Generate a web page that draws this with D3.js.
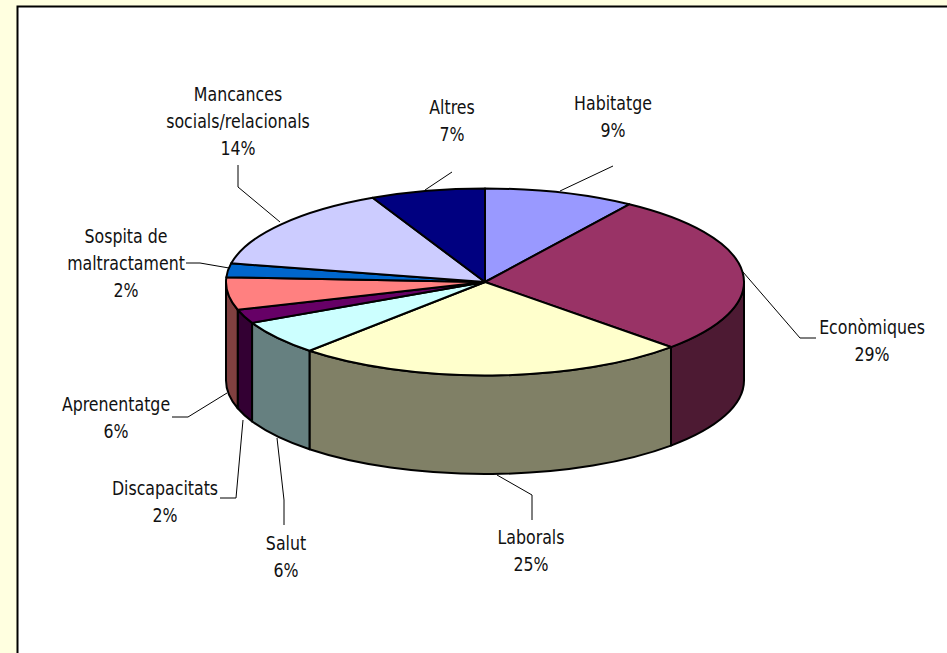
<!DOCTYPE html>
<html><head><meta charset="utf-8">
<script src="https://cdnjs.cloudflare.com/ajax/libs/d3/7.8.5/d3.min.js"></script>
<style>html,body{margin:0;padding:0;background:#ffffe0;overflow:hidden}svg{display:block}</style>
</head><body>
<svg id="c" width="947" height="653"></svg>
<script>
const categories = ["Habitatge","Econòmiques","Laborals","Salut","Discapacitats","Aprenentatge","Sospita de maltractament","Mancances socials/relacionals","Altres"];
const values = [9.4,27.85,24.6,5.95,2.4,5.6,2.4,14.66,7.14];
const percentLabels = ["9%","29%","25%","6%","2%","6%","2%","14%","7%"];
const labelLines = [["Habitatge","9%"],["Econòmiques","29%"],["Laborals","25%"],["Salut","6%"],["Discapacitats","2%"],["Aprenentatge","6%"],["Sospita de","maltractament","2%"],["Mancances","socials/relacionals","14%"],["Altres","7%"]];
const topColors = ["#9999ff","#993366","#ffffcc","#ccffff","#660066","#ff8080","#0066cc","#ccccff","#000080"];
const sideColors = ["#4d4d80","#4d1a33","#808066","#668080","#330033","#804040","#003366","#666680","#000040"];
const labelX = [613,872,531,286,165,116,126,238,452];
const labelTop = [103,327,537,543,488,404,236,94,107];
const leaders = [
 [[613,166],[560,191]],
 [[743,272],[800,338],[816,338]],
 [[497,475],[532,495],[532,520]],
 [[277,438],[284,500],[284,525]],
 [[243,420],[236,498],[220,498]],
 [[227,393],[188,417],[172,417]],
 [[229,268],[200,263],[186,263]],
 [[280,222],[238,187],[238,165]],
 [[425,190],[452,172]]
];
const cx=485, cy=282, rx=259, ry=93.5, depth=98.5, lineH=27, fontSize=20, xScale=0.79;

const svg=d3.select("#c");
svg.append("rect").attr("x",17.5).attr("y",6.5).attr("width",1000).attr("height",800).attr("fill","#fff").attr("stroke","#000").attr("stroke-width",2);

const arcs=d3.pie().sort(null).value(d=>d)(values);
const pt=(a,dy=0)=>[cx+rx*Math.sin(a),cy-ry*Math.cos(a)+dy];
const ellArc=(p,a0,a1,dy=0)=>{
  const [x,y]=pt(a1,dy);
  const sweep=a1>a0?1:0;
  p.push(`A${rx} ${ry} 0 ${Math.abs(a1-a0)>Math.PI?1:0} ${sweep} ${x} ${y}`);
};
const PI=Math.PI;
arcs.forEach((d,i)=>{
  const a0=Math.max(d.startAngle,PI/2), a1=Math.min(d.endAngle,3*PI/2);
  if(a1<=a0) return;
  const p=[`M${pt(a0)}`];
  ellArc(p,a0,a1);
  p.push(`L${pt(a1,depth)}`);
  ellArc(p,a1,a0,depth);
  p.push("Z");
  svg.append("path").attr("d",p.join("")).attr("fill",sideColors[i]).attr("stroke","#000").attr("stroke-width",2).attr("stroke-linejoin","round");
});
arcs.forEach((d,i)=>{
  const p=[`M${cx} ${cy}L${pt(d.startAngle)}`];
  ellArc(p,d.startAngle,d.endAngle);
  p.push("Z");
  svg.append("path").attr("d",p.join("")).attr("fill",topColors[i]).attr("stroke","#000").attr("stroke-width",2).attr("stroke-linejoin","round");
});
const line=d3.line();
leaders.forEach(l=>svg.append("path").attr("d",line(l)).attr("fill","none").attr("stroke","#000").attr("stroke-width",1));
labelLines.forEach((ls,i)=>{
  const t=svg.append("text").attr("font-family","'DejaVu Sans'").attr("font-size",fontSize).attr("fill","#111").attr("text-anchor","middle")
    .attr("transform",`translate(${labelX[i]},${labelTop[i]+7}) scale(${xScale},1)`);
  ls.forEach((s,j)=>t.append("tspan").attr("x",0).attr("y",j*lineH).text(s));
});
</script></body></html>
